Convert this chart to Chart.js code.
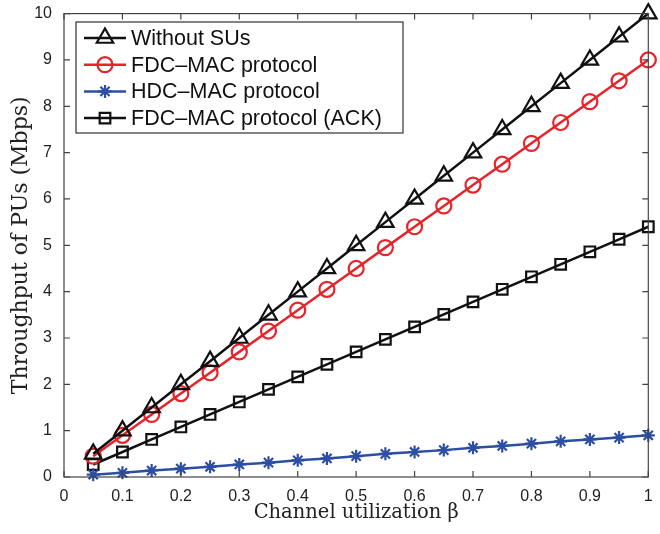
<!DOCTYPE html>
<html>
<head>
<meta charset="utf-8">
<script src="https://cdn.jsdelivr.net/npm/chart.js@4"></script>
<style>
  html, body { margin: 0; padding: 0; background: #fff; }
  #wrap { width: 660px; height: 534px; }
</style>
</head>
<body>
<div id="wrap"><canvas id="mycanvas" width="660" height="534"></canvas></div>
<script>
const beta = [0.05, 0.1, 0.15, 0.2, 0.25, 0.3, 0.35, 0.4, 0.45, 0.5,
              0.55, 0.6, 0.65, 0.7, 0.75, 0.8, 0.85, 0.9, 0.95, 1.0];
const withoutSUs = [0.5, 1.0, 1.5, 2.0, 2.5, 3.0, 3.5, 4.0, 4.5, 5.0,
                    5.5, 6.0, 6.5, 7.0, 7.5, 8.0, 8.5, 9.0, 9.5, 10.0];
const fdcMac = [0.45, 0.9, 1.35, 1.8, 2.25, 2.7, 3.15, 3.6, 4.05, 4.5,
                4.95, 5.4, 5.85, 6.3, 6.75, 7.2, 7.65, 8.1, 8.55, 9.0];
const hdcMac = [0.05, 0.09, 0.14, 0.18, 0.22, 0.27, 0.31, 0.36, 0.4, 0.45,
                0.5, 0.54, 0.58, 0.63, 0.67, 0.72, 0.77, 0.81, 0.85, 0.9];
const fdcMacAck = [0.27, 0.54, 0.81, 1.08, 1.35, 1.62, 1.89, 2.16, 2.43, 2.7,
                   2.97, 3.24, 3.51, 3.78, 4.05, 4.32, 4.59, 4.86, 5.13, 5.4];
const xTickLabels = ["0", "0.1", "0.2", "0.3", "0.4", "0.5", "0.6", "0.7", "0.8", "0.9", "1"];
const yTickLabels = ["0", "1", "2", "3", "4", "5", "6", "7", "8", "9", "10"];

const tickFont = { family: "'Liberation Sans', Arial, sans-serif", size: 16 };
const serif = "'DejaVu Serif', 'Liberation Serif', serif";

function pts(ys) {
    return ys.map((y, i) => ({ x: beta[i], y: y }));
}

// box round the plot with inward ticks on all four sides
const boxTicks = {
    id: "boxTicks",
    afterDatasetsDraw(chart) {
        const c = chart.ctx, a = chart.chartArea;
        const xs = chart.scales.x, ys = chart.scales.y;
        c.save();
        c.strokeStyle = "#444";
        c.lineWidth = 1.2;
        c.strokeRect(a.left, a.top, a.right - a.left, a.bottom - a.top);
        c.beginPath();
        xs.ticks.forEach(t => {
            const px = xs.getPixelForValue(t.value);
            c.moveTo(px, a.bottom); c.lineTo(px, a.bottom - 6);
            c.moveTo(px, a.top); c.lineTo(px, a.top + 6);
        });
        ys.ticks.forEach(t => {
            const py = ys.getPixelForValue(t.value);
            c.moveTo(a.left, py); c.lineTo(a.left + 6, py);
            c.moveTo(a.right, py); c.lineTo(a.right - 6, py);
        });
        c.stroke();
        c.restore();
    }
};

// legend box drawn inside the plot, top left
const boxLegend = {
    id: "boxLegend",
    afterDraw(chart) {
        const c = chart.ctx;
        const x0 = 76, y0 = 22, w = 327, h = 111, rowH = 26.7;
        c.save();
        c.fillStyle = "#fff";
        c.fillRect(x0, y0, w, h);
        c.strokeStyle = "#333";
        c.lineWidth = 1.2;
        c.strokeRect(x0, y0, w, h);
        chart.data.datasets.forEach((ds, i) => {
            const cy = y0 + 16 + i * rowH;
            c.strokeStyle = ds.borderColor;
            c.lineWidth = ds.borderWidth;
            c.beginPath();
            c.moveTo(x0 + 8, cy); c.lineTo(x0 + 50, cy);
            c.stroke();
            c.fillStyle = "rgba(0,0,0,0)";
            c.lineWidth = ds.pointBorderWidth;
            Chart.helpers.drawPoint(c, {
                pointStyle: ds.pointStyle,
                radius: ds.pointRadius,
                borderWidth: ds.pointBorderWidth,
                rotation: 0
            }, x0 + 29, cy);
            c.fillStyle = "#111";
            c.font = "21.5px 'Liberation Sans', Arial, sans-serif";
            c.textBaseline = "middle";
            c.fillText(ds.label, x0 + 55, cy + 1);
        });
        c.restore();
    }
};

function series(label, data, color, style, radius) {
    return {
        label: label,
        data: pts(data),
        borderColor: color,
        backgroundColor: "rgba(0,0,0,0)",
        borderWidth: 2.5,
        pointStyle: style,
        pointRadius: radius,
        pointBorderWidth: 2.2,
        pointBorderColor: color,
        pointBackgroundColor: "rgba(0,0,0,0)",
        tension: 0,
        clip: false
    };
}

const canvas = document.getElementById("mycanvas");
const ctx = canvas.getContext("2d");

var chart = new Chart(ctx, {
    type: "line",
    data: {
        datasets: [
            series("Without SUs", withoutSUs, "#111111", "triangle", 9.5),
            series("FDC\u2013MAC protocol", fdcMac, "#e8232a", "circle", 7.5),
            series("HDC\u2013MAC protocol", hdcMac, "#2c4fa3", "star", 6.5),
            series("FDC\u2013MAC protocol (ACK)", fdcMacAck, "#111111", "rect", 7.5)
        ]
    },
    options: {
        responsive: false,
        animation: false,
        layout: {
            padding: { top: 9, left: 0, bottom: 9, right: 5 }
        },
        scales: {
            x: {
                type: "linear",
                min: 0,
                max: 1,
                ticks: {
                    stepSize: 0.1,
                    maxRotation: 0,
                    autoSkip: false,
                    padding: 2,
                    color: "#222",
                    font: tickFont,
                    callback: (v, i) => xTickLabels[i]
                },
                grid: { display: false },
                border: { display: false },
                title: {
                    display: true,
                    text: "Channel utilization \u03b2",
                    color: "#222",
                    font: { family: serif, size: 19.5 },
                    padding: { top: 0, bottom: 0 }
                },
                afterFit: s => { s.height = 48; }
            },
            y: {
                type: "linear",
                min: 0,
                max: 10,
                ticks: {
                    stepSize: 1,
                    padding: 4,
                    color: "#222",
                    font: tickFont,
                    callback: (v, i) => yTickLabels[i]
                },
                grid: { display: false },
                border: { display: false },
                title: {
                    display: true,
                    text: "Throughput of PUs (Mbps)",
                    color: "#222",
                    font: { family: serif, size: 22 },
                    padding: { top: 8, bottom: 0 }
                },
                afterFit: s => { s.width = 64; }
            }
        },
        plugins: {
            legend: { display: false },
            tooltip: { enabled: false }
        }
    },
    plugins: [boxTicks, boxLegend]
});
</script>
</body>
</html>
